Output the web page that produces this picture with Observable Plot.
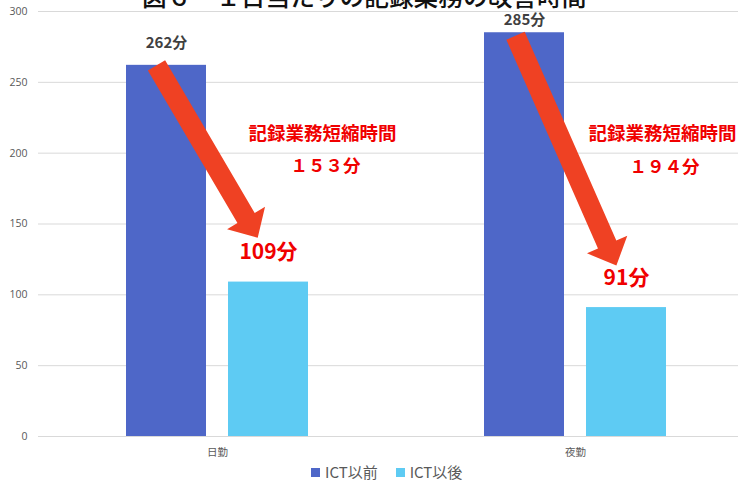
<!DOCTYPE html>
<html><head><meta charset="utf-8">
<script src="https://cdn.jsdelivr.net/npm/d3@7"></script>
<script src="https://cdn.jsdelivr.net/npm/@observablehq/plot@0.6"></script>
<style>
body{margin:0;background:#fff;width:738px;height:483px;overflow:hidden;position:relative;font-family:"Noto Sans CJK JP",sans-serif}
#chart{position:absolute;left:0;top:0}
#title{position:absolute;left:142px;top:-17.5px;font-size:24.7px;line-height:24.7px;color:#111;white-space:nowrap;z-index:2;font-weight:500}
#legend{position:absolute;left:311px;top:461px;display:flex;align-items:center;font-size:15px;line-height:22px;color:#595959}
.item{display:flex;align-items:center;margin-right:18px}
.sw{display:inline-block;width:9px;height:9px;margin-right:5px}
</style></head><body>
<div id="chart"></div>
<div id="title"></div>
<div id="legend"></div>
<script>
const title = "図６　１日当たりの記録業務の改善時間";
const categories = ["日勤", "夜勤"];
const seriesNames = ["ICT以前", "ICT以後"];
const before = [262, 285];
const after = [109, 91];
const reductionTitle = "記録業務短縮時間";
const reductions = ["１５３分", "１９４分"];
const unit = "分";
const yTicks = [0, 50, 100, 150, 200, 250, 300];
const colors = ["#4e67c8", "#5ecbf3"];

const rows = categories.map((c, i) => ({category: c, before: before[i], after: after[i], reduction: reductions[i]}));
const day = rows.filter(d => d.category === categories[0]);
const night = rows.filter(d => d.category === categories[1]);

const arrowColor = "#ef4123";
const red = "#f00000";
const blockArrow = {
  draw(context, l) {
    const w = 10, hw = 22, hl = 23;
    context.moveTo(-w, 0);
    context.lineTo(-w, -(l - hl));
    context.lineTo(-hw, -(l - hl));
    context.lineTo(0, -l);
    context.lineTo(hw, -(l - hl));
    context.lineTo(w, -(l - hl));
    context.lineTo(w, 0);
    context.closePath();
  }
};

const font = "'Noto Sans CJK JP', sans-serif";
const chart = Plot.plot({
  width: 738,
  height: 462,
  marginLeft: 38,
  marginRight: 0,
  marginTop: 11,
  marginBottom: 26,
  style: {fontFamily: font, background: "#fff", overflow: "hidden"},
  x: {domain: categories, range: [38, 754], paddingInner: 0.4916, paddingOuter: 0.2458},
  y: {domain: [0, 300], range: [436, 11]},
  marks: [
    Plot.ruleY(yTicks, {stroke: "#d9d9d9", strokeWidth: 1}),
    Plot.axisY(yTicks, {tickSize: 0, tickPadding: 11, fontSize: 10.5, color: "#595959", label: null, fontFamily: "'Open Sans', sans-serif"}),
    Plot.axisX({tickSize: 0, tickPadding: 12, fontSize: 10.5, color: "#595959", label: null}),
    Plot.barY(rows, {x: "category", y: "before", fill: colors[0], insetRight: 102}),
    Plot.barY(rows, {x: "category", y: "after", fill: colors[1], insetLeft: 102}),
    Plot.vector(day, {x: "category", y: "before", dx: -61, anchor: "start", rotate: 149.6, length: 200, shape: blockArrow, fill: arrowColor, stroke: "none"}),
    Plot.vector(night, {x: "category", y: "before", dx: -60, dy: 3, anchor: "start", rotate: 156.3, length: 251, shape: blockArrow, fill: arrowColor, stroke: "none"}),
    Plot.text(day, {x: "category", y: "before", text: d => d.before + unit, dx: -51, dy: -22, fontSize: 15, fontWeight: "bold", fill: "#404040"}),
    Plot.text(night, {x: "category", y: "before", text: d => d.before + unit, dx: -51, dy: -13, fontSize: 15, fontWeight: "bold", fill: "#404040"}),
    Plot.text(rows, {x: "category", y: "after", text: d => d.after + unit, dx: 51, dy: -29.5, fontSize: 21, fontWeight: "bold", fill: red}),
    Plot.text(day, {x: "category", text: () => reductionTitle, frameAnchor: "top", dy: 115, dx: 31, textAnchor: "start", fontSize: 18.5, fontWeight: "bold", fill: red}),
    Plot.text(night, {x: "category", text: () => reductionTitle, frameAnchor: "top", dy: 115.5, dx: 13, textAnchor: "start", fontSize: 18.5, fontWeight: "bold", fill: red}),
    Plot.text(day, {x: "category", text: "reduction", frameAnchor: "top", dy: 148, dx: 108, fontSize: 17.5, fontWeight: "bold", fill: red}),
    Plot.text(night, {x: "category", text: "reduction", frameAnchor: "top", dy: 149, dx: 89, fontSize: 17.5, fontWeight: "bold", fill: red})
  ]
});
document.getElementById("chart").append(chart);
document.getElementById("title").textContent = title;
const legend = document.getElementById("legend");
seriesNames.forEach((s, i) => {
  const item = document.createElement("span");
  item.className = "item";
  const sw = document.createElement("span");
  sw.className = "sw";
  sw.style.background = colors[i];
  item.append(sw, document.createTextNode(s));
  legend.append(item);
});
</script>
</body></html>
